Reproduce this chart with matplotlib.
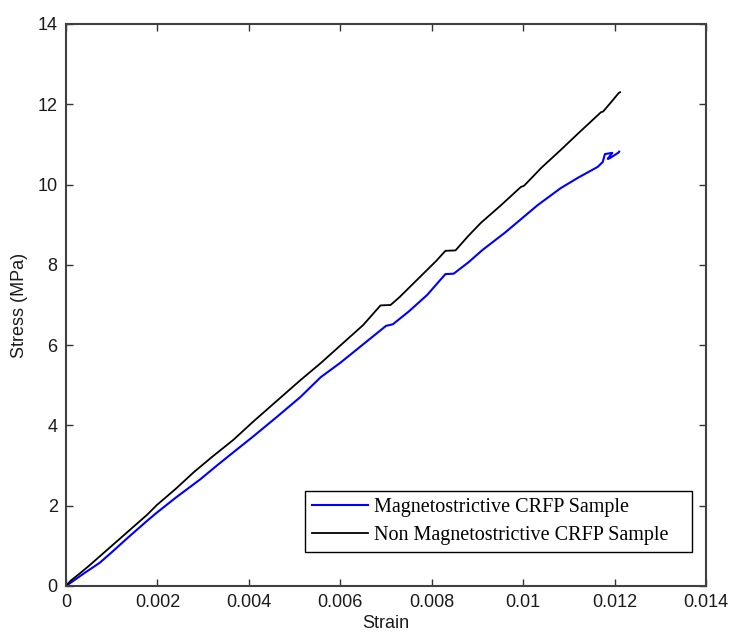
import matplotlib
matplotlib.use('Agg')
import matplotlib.pyplot as plt
import numpy as np

# strain values are in units of 1e-3
mag_strain = [0, 0.15, 0.4, 0.74, 1.0, 1.35, 1.77, 1.99, 2.4, 2.94, 3.3, 3.66, 4.1, 4.6,
              5.13, 5.57, 6.0, 6.5, 7.0, 7.15, 7.5, 7.9, 8.3, 8.48, 8.8, 9.11, 9.6,
              10.32, 10.82, 11.2, 11.63, 11.74, 11.79, 11.95, 11.85, 11.9, 12.09, 12.1]
mag_stress = [0, 0.12, 0.32, 0.58, 0.84, 1.2, 1.62, 1.83, 2.2, 2.66, 3.0, 3.33, 3.73, 4.2,
              4.71, 5.2, 5.56, 6.02, 6.48, 6.52, 6.84, 7.25, 7.77, 7.78, 8.06, 8.37, 8.8,
              9.49, 9.91, 10.17, 10.44, 10.56, 10.76, 10.79, 10.64, 10.66, 10.8, 10.82]

nonmag_strain = [0, 0.1, 0.31, 0.5, 0.9, 1.2, 1.5, 1.77, 1.99, 2.4, 2.8, 3.2, 3.66, 4.1,
                 4.6, 5.13, 5.57, 6.0, 6.5, 6.88, 7.1, 7.3, 7.7, 8.1, 8.3, 8.52, 8.8,
                 9.07, 9.5, 9.95, 10.02, 10.4, 10.82, 11.2, 11.7, 11.75, 11.9, 12.09, 12.12]
nonmag_stress = [0, 0.13, 0.32, 0.5, 0.9, 1.2, 1.5, 1.77, 2.02, 2.42, 2.84, 3.22, 3.64, 4.1,
                 4.6, 5.13, 5.55, 5.99, 6.5, 6.99, 7.0, 7.2, 7.65, 8.1, 8.35, 8.36, 8.72,
                 9.04, 9.47, 9.94, 9.97, 10.42, 10.86, 11.27, 11.8, 11.82, 12.02, 12.28, 12.3]

labels = ['Magnetostrictive CRFP Sample', 'Non Magnetostrictive CRFP Sample']
xticks = [0, 0.002, 0.004, 0.006, 0.008, 0.01, 0.012, 0.014]
xticklabels = ['0', '0.002', '0.004', '0.006', '0.008', '0.01', '0.012', '0.014']
yticks = [0, 2, 4, 6, 8, 10, 12, 14]

plt.rcParams['font.family'] = ['Liberation Sans', 'DejaVu Sans']

fig = plt.figure(figsize=(7.32, 6.32), dpi=100)
ax = fig.add_axes([66/732, 1 - 586/632, 640/732, 562/632])

ax.plot(np.array(mag_strain) * 1e-3, mag_stress, color='#0000ff', lw=1.5, label=labels[0])
ax.plot(np.array(nonmag_strain) * 1e-3, nonmag_stress, color='black', lw=1.3, label=labels[1])

ax.set_xlim(0, 0.014)
ax.set_ylim(0, 14)
ax.set_xticks(xticks)
ax.set_xticklabels(xticklabels)
ax.set_yticks(yticks)
ax.tick_params(direction='in', length=5, width=1, top=True, right=True,
               labelsize=13, colors='#333333', labelcolor='#1a1a1a', pad=6)
for sp in ax.spines.values():
    sp.set_color('#404040')
    sp.set_linewidth(1.5)

ax.set_xlabel('Strain', fontsize=13, color='#1a1a1a', labelpad=3)
ax.set_ylabel('Stress (MPa)', fontsize=13, color='#1a1a1a', labelpad=7)

# legend box stretched to the reference width (text stays left, space on the right)
leg = ax.legend(loc='upper left', bbox_to_anchor=(0.3734, 0.05, 0.6047, 0.119), mode='expand',
                frameon=True, fancybox=False,
                prop={'family': 'Liberation Serif', 'size': 14.5}, handlelength=2.8,
                handletextpad=0.3, borderpad=0.35, labelspacing=0.42, borderaxespad=0)
leg.get_frame().set_edgecolor('black')
leg.get_frame().set_linewidth(1.0)
leg.get_frame().set_alpha(1)

fig.savefig('out.png', dpi=100)
